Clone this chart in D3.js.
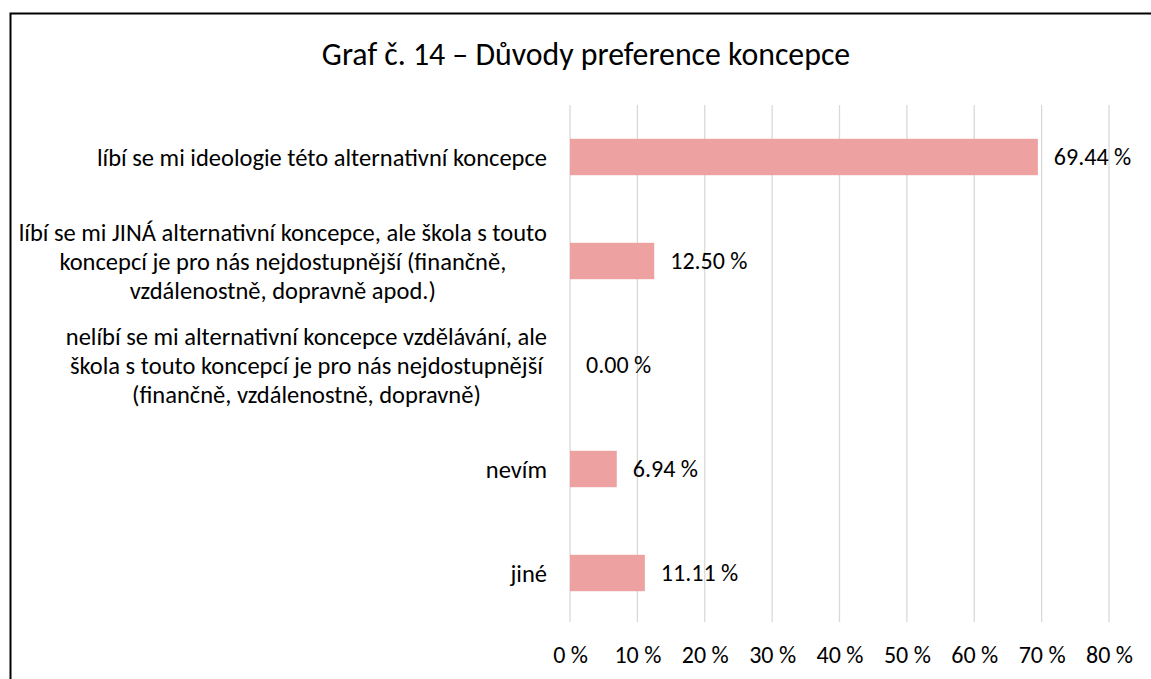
<!DOCTYPE html>
<html>
<head>
<meta charset="utf-8">
<script src="https://cdn.jsdelivr.net/npm/d3@7"></script>
<style>
  body { margin: 0; background: #fff; }
  svg { display: block; font-family: Carlito, Calibri, Lato, sans-serif; }
</style>
</head>
<body>
<div id="chart"></div>
<script>
const categories = [
  "líbí se mi ideologie této alternativní koncepce",
  "líbí se mi JINÁ alternativní koncepce, ale škola s touto koncepcí je pro nás nejdostupnější (finančně, vzdálenostně, dopravně apod.)",
  "nelíbí se mi alternativní koncepce vzdělávání, ale škola s touto koncepcí je pro nás nejdostupnější (finančně, vzdálenostně, dopravně)",
  "nevím",
  "jiné"
];
const labelLines = [
  ["líbí se mi ideologie této alternativní koncepce"],
  ["líbí se mi JINÁ alternativní koncepce, ale škola s touto",
   "koncepcí je pro nás nejdostupnější (finančně,",
   "vzdálenostně, dopravně apod.)"],
  ["nelíbí se mi alternativní koncepce vzdělávání, ale",
   "škola s touto koncepcí je pro nás nejdostupnější",
   "(finančně, vzdálenostně, dopravně)"],
  ["nevím"],
  ["jiné"]
];
const values = [69.44, 12.50, 0.00, 6.94, 11.11];
const xTicks = [0, 10, 20, 30, 40, 50, 60, 70, 80];

const width = 1151;
const height = 679;
const margin = { top: 105, right: 42, bottom: 54, left: 570 };
const fontSize = 24;

const data = categories.map((c, i) => ({ cat: c, lines: labelLines[i], value: values[i] }));

const svg = d3.select("#chart").append("svg")
  .attr("width", width)
  .attr("height", height);

// outer frame (only left/top edges visible in the crop)
svg.append("rect")
  .attr("x", 10.5).attr("y", 13.5)
  .attr("width", width + 20).attr("height", height + 20)
  .attr("fill", "none")
  .attr("stroke", "#000")
  .attr("stroke-width", 2);

svg.append("text")
  .attr("x", 586)
  .attr("y", 65)
  .attr("text-anchor", "middle")
  .style("font-size", "31.8px")
  .style("fill", "#000")
  .text("Graf č. 14 – Důvody preference koncepce");

const x = d3.scaleLinear().domain([0, 80]).range([margin.left, width - margin.right]);
const y = d3.scaleBand()
  .domain(categories)
  .range([margin.top, height - margin.bottom])
  .paddingInner(0.65)
  .paddingOuter(0.325);

// gridlines
svg.append("g")
  .selectAll("line")
  .data(xTicks)
  .join("line")
  .attr("x1", d => x(d)).attr("x2", d => x(d))
  .attr("y1", margin.top).attr("y2", height - margin.bottom - 3)
  .attr("stroke", "#d9d9d9")
  .attr("stroke-width", 1.3);

// x axis labels
const xAxis = svg.append("g")
  .attr("transform", `translate(0,${height - margin.bottom})`)
  .call(d3.axisBottom(x).tickValues(xTicks).tickFormat(d => d + " %").tickSize(0));
xAxis.select(".domain").remove();
xAxis.selectAll("text")
  .attr("y", 30)
  .attr("dy", "0.35em")
  .style("font-family", "Carlito, Calibri, Lato, sans-serif")
  .style("font-size", fontSize + "px")
  .style("fill", "#000");

// bars
svg.append("g")
  .selectAll("rect")
  .data(data)
  .join("rect")
  .attr("x", x(0))
  .attr("y", d => y(d.cat))
  .attr("width", d => x(d.value) - x(0))
  .attr("height", y.bandwidth())
  .attr("fill", "#eda1a1");

// value labels
svg.append("g")
  .selectAll("text")
  .data(data)
  .join("text")
  .attr("x", d => x(d.value) + 16)
  .attr("y", d => y(d.cat) + y.bandwidth() / 2)
  .attr("dy", "0.35em")
  .style("font-size", fontSize + "px")
  .style("fill", "#000")
  .text(d => d.value.toFixed(2) + " %");

// category labels: centred lines, block right-aligned to axis
const labelRight = 547;
const lineH = 29;
const catG = svg.append("g");
data.forEach(d => {
  const cy = y(d.cat) + y.bandwidth() / 2;
  const t = catG.append("text")
    .attr("text-anchor", "middle")
    .style("font-size", "24.5px")
    .style("fill", "#000");
  const n = d.lines.length;
  const spans = t.selectAll("tspan")
    .data(d.lines)
    .join("tspan")
    .attr("y", (l, i) => cy + (i - (n - 1) / 2) * lineH)
    .attr("dy", "0.35em")
    .text(l => l);
  let maxW = 0;
  spans.each(function() { maxW = Math.max(maxW, this.getComputedTextLength()); });
  spans.attr("x", labelRight - maxW / 2);
});
</script>
</body>
</html>
